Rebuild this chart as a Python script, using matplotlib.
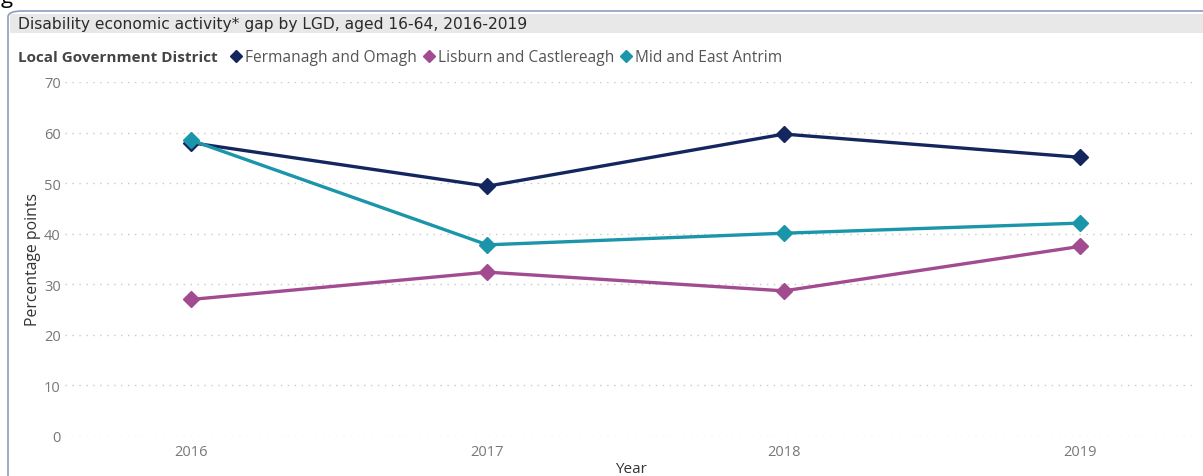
import matplotlib
matplotlib.use("Agg")
import matplotlib.pyplot as plt
from matplotlib.lines import Line2D
from matplotlib.patches import FancyBboxPatch, Rectangle

# --- disability economic activity gap by LGD ---
years = [2016, 2017, 2018, 2019]
fermanagh_omagh = [58.0, 49.4, 59.7, 55.1]
lisburn_castlereagh = [27.0, 32.4, 28.7, 37.5]
mid_east_antrim = [58.5, 37.8, 40.1, 42.1]

series_names = ["Fermanagh and Omagh", "Lisburn and Castlereagh", "Mid and East Antrim"]
series_colors = ["#13265E", "#A24B91", "#1A95AA"]
y_ticks = [0, 10, 20, 30, 40, 50, 60, 70]

plt.rcParams["font.family"] = ["Open Sans", "DejaVu Sans"]

W, H = 1203, 477
fig = plt.figure(figsize=(W / 100, H / 100), dpi=100)

def fx(px):
    return px / W

def fy(py):
    return 1 - py / H

# panel frame with rounded corner and grey title bar
frame = FancyBboxPatch((fx(8), fy(490)), fx(1220), fy(12) - fy(490),
                       boxstyle="round,pad=0,rounding_size=0.012",
                       transform=fig.transFigure, facecolor="white",
                       edgecolor="#8E9CC0", linewidth=1.2, zorder=0)
fig.patches.append(frame)
bar = Rectangle((fx(10), fy(34)), fx(1200), fy(15) - fy(34),
                transform=fig.transFigure, facecolor="#E8E8E8",
                edgecolor="none", zorder=1)
fig.patches.append(bar)
fig.text(fx(18), fy(24.5), "Disability economic activity* gap by LGD, aged 16-64, 2016-2019",
         fontsize=11.2, color="#2B2B2B", va="center", ha="left", family=["DejaVu Sans"])
fig.text(fx(1), fy(3), "g", fontsize=16, color="black", va="baseline", ha="left")

ax = fig.add_axes([fx(65), fy(437), fx(1196) - fx(65), fy(83) - fy(437)], zorder=3)
ax.set_facecolor("none")

all_values = [fermanagh_omagh, lisburn_castlereagh, mid_east_antrim]
handles = []
for name, vals, col in zip(series_names, all_values, series_colors):
    ax.plot(years, vals, color=col, linewidth=2.4, marker="D", markersize=8,
            solid_joinstyle="round", zorder=3, clip_on=False)
    handles.append(Line2D([], [], color=col, marker="D", linestyle="none",
                          markersize=6, label=name))

ax.set_xlim(2015.575, 2019.39)
ax.set_ylim(0, 70)
ax.set_xticks(years)
ax.set_xticklabels([str(y) for y in years])
ax.set_yticks(y_ticks)
ax.grid(axis="y", color="#C8C8C8", linestyle=(0, (1, 4)), linewidth=1.0)
ax.grid(axis="x", visible=False)
ax.tick_params(length=0, labelsize=10.5, labelcolor="#777777")
ax.tick_params(axis="y", pad=3)
ax.tick_params(axis="x", pad=6)
for s in ax.spines.values():
    s.set_visible(False)

ax.set_xlabel("Year", fontsize=11, color="#333333", labelpad=1)
ax.set_ylabel("Percentage points", fontsize=11.3, color="#333333", labelpad=2)

# legend row
fig.text(fx(18), fy(58), "Local Government District", fontsize=11, fontweight="bold",
         color="#444444", va="center", ha="left")
fig.legend(handles=handles, loc="center left", bbox_to_anchor=(fx(231), fy(58)),
           ncol=3, frameon=False, fontsize=11.2, labelcolor="#555555",
           handlelength=0.6, handletextpad=0.3, columnspacing=0.45, borderpad=0,
           borderaxespad=0)

fig.savefig("out.png", dpi=100)
